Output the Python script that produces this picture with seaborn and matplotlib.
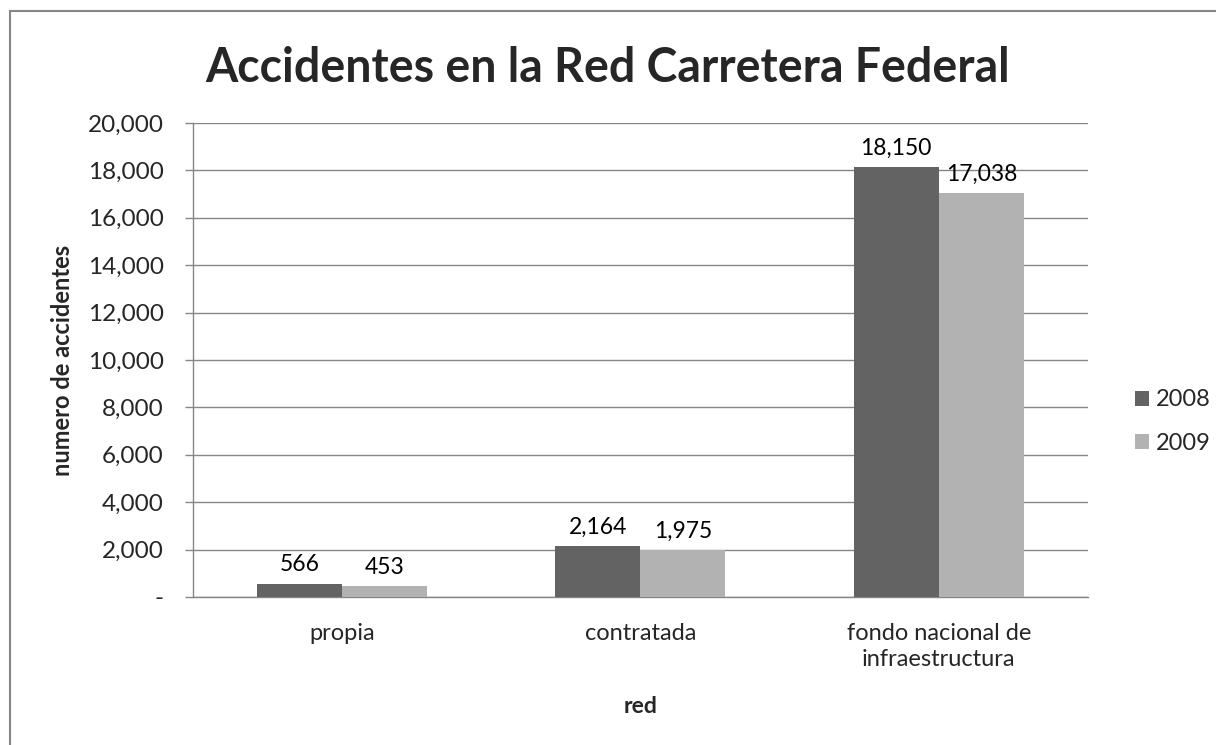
import matplotlib
matplotlib.use('Agg')
import matplotlib.pyplot as plt
import matplotlib.ticker as mticker
from matplotlib.patches import Rectangle
import seaborn as sns
import pandas as pd

# Datos
categorias = ['propia', 'contratada', 'fondo nacional de\ninfraestructura']
anios = ['2008', '2009']
valores_2008 = [566, 2164, 18150]
valores_2009 = [453, 1975, 17038]
yticks = [0, 2000, 4000, 6000, 8000, 10000, 12000, 14000, 16000, 18000, 20000]

df = pd.DataFrame({
    'red': categorias * 2,
    'anio': [anios[0]] * 3 + [anios[1]] * 3,
    'accidentes': valores_2008 + valores_2009,
})

sns.set_style('white')
plt.rcParams['font.family'] = ['Lato', 'DejaVu Sans']

gris = '#868686'
fig = plt.figure(figsize=(12.16, 7.45), dpi=100)
ax = fig.add_axes([0.1587, 0.1987, 0.736, 0.6362])

sns.barplot(data=df, x='red', y='accidentes', hue='anio',
            palette=['#636363', '#b2b2b2'], width=0.57, saturation=1,
            linewidth=0, ax=ax, zorder=3)

for cont in ax.containers:
    ax.bar_label(cont, labels=[f'{v:,.0f}' for v in cont.datavalues],
                 padding=6, fontsize=16.5, color='black')

ax.set_ylim(0, 20000)
ax.set_xlim(-0.5, 2.5)
ax.set_yticks(yticks)
ax.yaxis.set_major_formatter(mticker.FuncFormatter(lambda v, p: '-' if v == 0 else f'{v:,.0f}'))
ax.yaxis.grid(True, color=gris, linewidth=1, zorder=0)
ax.set_axisbelow(True)

ax.set_xticks([-0.5, 0.5, 1.5, 2.5], minor=True)
ax.tick_params(axis='x', which='major', length=0, labelsize=17, pad=19)
ax.tick_params(axis='x', which='minor', length=7, color=gris, width=1)
ax.tick_params(axis='y', length=6, color=gris, width=1, labelsize=17.5, pad=15, left=True)
for lbl in ax.get_xticklabels():
    lbl.set_linespacing(1.25)

for s in ['top', 'right']:
    ax.spines[s].set_visible(False)
for s in ['left', 'bottom']:
    ax.spines[s].set_color(gris)
    ax.spines[s].set_linewidth(1)

ax.set_xlabel('red', fontsize=16.5, fontweight='bold', labelpad=19)
ax.set_ylabel('numero de accidentes', fontsize=17, fontweight='bold')
ax.yaxis.set_label_coords(-0.133, 0.5)
fig.suptitle('Accidentes en la Red Carretera Federal', fontsize=33.5,
             fontweight='bold', y=0.909, va='center')

ax.legend(loc='center left', bbox_to_anchor=(1.039, 0.37), frameon=False,
          borderpad=0, fontsize=17, handlelength=0.6, handleheight=0.6,
          handletextpad=0.3, labelspacing=0.95)

# borde exterior del grafico (recortado a la derecha y abajo)
fig.patches.append(Rectangle((0.008, -0.1), 1.2, 1.085, transform=fig.transFigure,
                             fill=False, edgecolor=gris, linewidth=1.5))

fig.savefig('out.png', dpi=100, facecolor='white')
